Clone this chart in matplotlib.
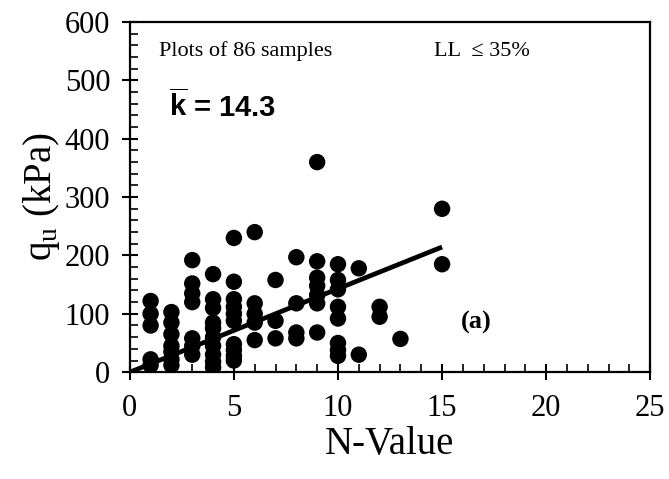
import matplotlib
matplotlib.use("Agg")
import matplotlib.pyplot as plt
import matplotlib.ticker as plticker

plt.rcParams['font.family'] = ['Liberation Serif', 'DejaVu Serif']
plt.rcParams['mathtext.fontset'] = 'custom'
plt.rcParams['mathtext.rm'] = 'Liberation Serif'
plt.rcParams['mathtext.bf'] = 'Liberation Sans:bold'

# N-value and q_u (kPa) of each sample
n_1 = [122, 100, 80, 22, 12]
n_2 = [103, 85, 65, 45, 35, 22, 12]
n_3 = [192, 152, 135, 120, 58, 45, 30]
n_4 = [168, 125, 110, 85, 75, 60, 45, 30, 18, 8]
n_5 = [230, 155, 125, 112, 100, 88, 48, 38, 28, 20]
n_6 = [240, 118, 100, 85, 55]
n_7 = [158, 88, 58]
n_8 = [197, 118, 68, 58]
n_9 = [360, 190, 162, 148, 132, 118, 68]
n_10 = [185, 158, 142, 112, 92, 50, 38, 28]
n_11 = [178, 30]
n_12 = [112, 95]
n_13 = [57]
n_15 = [280, 185]

columns = {1: n_1, 2: n_2, 3: n_3, 4: n_4, 5: n_5, 6: n_6, 7: n_7,
           8: n_8, 9: n_9, 10: n_10, 11: n_11, 12: n_12, 13: n_13, 15: n_15}

k_mean = 14.3
fit_n = [0, 15]

n_vals = []
qu_vals = []
for n, qs in columns.items():
    for q in qs:
        n_vals.append(n)
        qu_vals.append(q)

fig = plt.figure(figsize=(6.69, 4.79), dpi=100)
ax = fig.add_axes([0.194, 0.223, 0.778, 0.731])

ax.scatter(n_vals, qu_vals, s=140, color='black', zorder=3, edgecolors='none')
ax.plot(fit_n, [k_mean * n for n in fit_n], color='black', lw=3.4, zorder=4,
        solid_capstyle='butt')

ax.set_xlim(0, 25)
ax.set_ylim(0, 600)
ax.xaxis.set_major_locator(plticker.MultipleLocator(5))
ax.xaxis.set_minor_locator(plticker.MultipleLocator(1))
ax.yaxis.set_major_locator(plticker.MultipleLocator(100))
ax.yaxis.set_minor_locator(plticker.MultipleLocator(20))
ax.tick_params(which='major', direction='inout', length=12, width=1.5,
               labelsize=22, top=False, right=False)
ax.tick_params(which='minor', direction='in', length=6, width=1.2,
               top=False, right=False)
ax.tick_params(axis='x', which='major', pad=10)
ax.tick_params(axis='y', which='major', pad=8)
for sp in ax.spines.values():
    sp.set_linewidth(1.6)

ax.set_xlabel("N-Value", fontsize=28, labelpad=2)
ax.set_ylabel(r"q$_{\mathrm{u}}$ (kPa)", fontsize=28, labelpad=2)

ax.text(1.4, 550, "Plots of 86 samples", fontsize=16, va='center')
ax.text(14.6, 550, "LL  \u2264 35%", fontsize=16, va='center')
ax.text(1.9, 455, r"$\overline{\mathbf{k}}$ = 14.3", fontsize=21, va='center',
        fontfamily='Liberation Sans', fontweight='bold')
ax.text(15.9, 86, "(a)", fontsize=19, va='center', fontweight='bold')

fig.savefig("out.png", dpi=100)
